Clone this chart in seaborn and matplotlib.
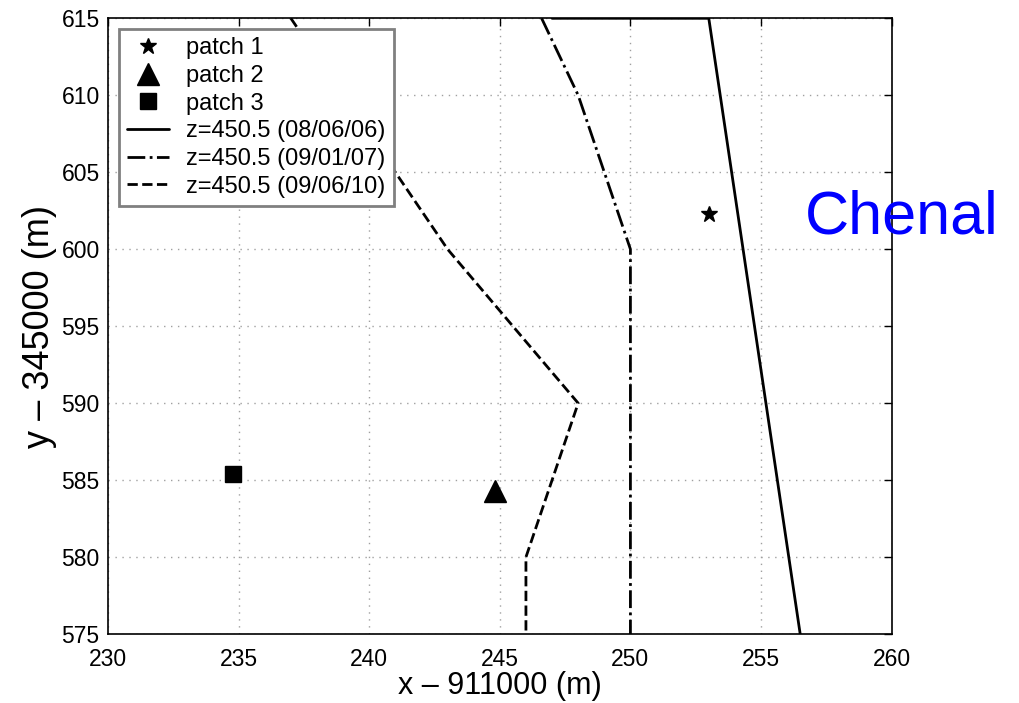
import matplotlib
matplotlib.use('Agg')
import matplotlib.pyplot as plt
import seaborn as sns

# contour lines z=450.5 at three dates
line1_x = [247.0, 253.0, 256.5]
line1_y = [615.0, 615.0, 575.0]
line2_x = [246.6, 248.0, 250.0, 250.0]
line2_y = [615.0, 610.0, 600.0, 575.0]
line3_x = [237.0, 241.0, 243.0, 248.0, 246.0, 246.0]
line3_y = [615.0, 605.0, 600.0, 590.0, 580.0, 575.0]

# patches
patch_x = [253.0, 244.8, 234.8]
patch_y = [602.3, 584.3, 585.4]
patch_labels = ['patch 1', 'patch 2', 'patch 3']
patch_markers = ['*', '^', 's']
patch_sizes = [12, 16, 12]

line_labels = ['z=450.5 (08/06/06)', 'z=450.5 (09/01/07)', 'z=450.5 (09/06/10)']

sns.set_style('white')
plt.rcParams['font.family'] = ['Liberation Sans', 'DejaVu Sans']
plt.rcParams['text.color'] = 'black'
plt.rcParams['axes.labelcolor'] = 'black'
plt.rcParams['xtick.color'] = 'black'
plt.rcParams['ytick.color'] = 'black'

fig = plt.figure(figsize=(10.19, 7.03), dpi=100)
ax = fig.add_axes([0.106, 0.098, 0.769, 0.876])

for x, y, lab, m, s in zip(patch_x, patch_y, patch_labels, patch_markers, patch_sizes):
    ax.plot([x], [y], linestyle='none', marker=m, markersize=s, color='black', label=lab)

styles = ['-', '-.', '--']
for (x, y), lab, ls in zip([(line1_x, line1_y), (line2_x, line2_y), (line3_x, line3_y)], line_labels, styles):
    sns.lineplot(x=x, y=y, sort=False, estimator=None, color='black', linestyle=ls,
                 linewidth=2, label=lab, ax=ax)

ax.set_xlim(230, 260)
ax.set_ylim(575, 615)
ax.set_xticks(range(230, 261, 5))
ax.set_yticks(range(575, 616, 5))
ax.grid(True, linestyle=(0, (1, 4)), color='#a0a0a0', linewidth=1)
ax.tick_params(direction='in', top=True, right=True, length=6, width=1, labelsize=16.5)
ax.tick_params(axis='x', pad=10)
ax.tick_params(axis='y', pad=6)
for sp in ax.spines.values():
    sp.set_color('black')
    sp.set_linewidth(1.2)

ax.set_xlabel('x \u2013 911000 (m)', fontsize=22, labelpad=0)
ax.set_ylabel('y \u2013 345000 (m)', fontsize=26, labelpad=3)

leg = ax.legend(loc='upper left', fontsize=17, frameon=True, fancybox=False, framealpha=1,
                borderaxespad=0.45, handlelength=1.8, handletextpad=0.7,
                labelspacing=0.24, borderpad=0.35)
leg.get_frame().set_edgecolor('#808080')
leg.get_frame().set_linewidth(2)

fig.text(0.79, 0.69, 'Chenal', color='#0000ff', fontsize=44, va='center', ha='left')

fig.savefig('out.png', dpi=100)
